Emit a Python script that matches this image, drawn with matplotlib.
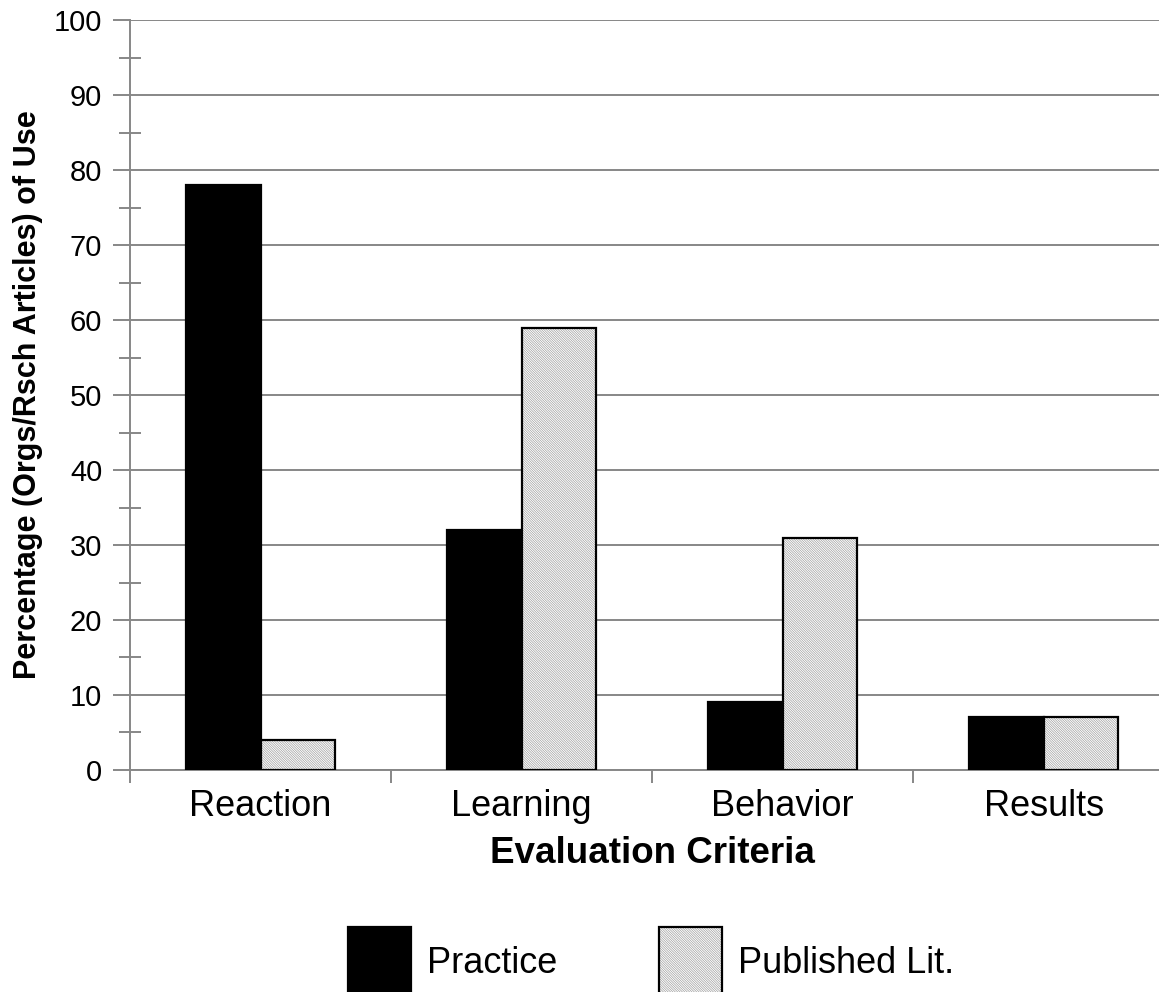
import matplotlib.pyplot as plt
import numpy as np
from matplotlib.patches import Patch
from matplotlib.legend_handler import HandlerTuple
from matplotlib.ticker import MultipleLocator

plt.rcParams['font.family'] = ['Liberation Sans', 'DejaVu Sans']
plt.rcParams['hatch.linewidth'] = 0.5

# Evaluation criteria and percentage of use
criteria = ['Reaction', 'Learning', 'Behavior', 'Results']
practice = [78, 32, 9, 7]
published = [4, 59, 31, 7]

grid_gray = '#878787'
hatch_gray = '#a0a0a0'
hatch = '\\' * 14
bar_w = 0.285

fig = plt.figure(figsize=(11.59, 9.92), dpi=100)
ax = fig.add_axes([0.1122, 0.2238, 0.9008, 0.756])

x = np.arange(len(criteria))
ax.bar(x - bar_w / 2, practice, bar_w, color='black', edgecolor='black',
       linewidth=1.6, zorder=3)
# hatched fill first, then a black outline on top
ax.bar(x + bar_w / 2, published, bar_w, color='white', edgecolor=hatch_gray,
       hatch=hatch, linewidth=0, zorder=3)
ax.bar(x + bar_w / 2, published, bar_w, fill=False, edgecolor='black',
       linewidth=1.6, zorder=4)

ax.set_xlim(-0.5, len(criteria) - 0.5)
ax.set_ylim(0, 100)
ax.yaxis.set_major_locator(MultipleLocator(10))
ax.yaxis.set_minor_locator(MultipleLocator(5))
ax.grid(axis='y', which='major', color=grid_gray, linewidth=1.4, zorder=0)

for side in ['top', 'right']:
    ax.spines[side].set_visible(False)
for side in ['left', 'bottom']:
    ax.spines[side].set_color(grid_gray)
    ax.spines[side].set_linewidth(1.4)

ax.tick_params(axis='y', which='major', length=12, width=1.4, color=grid_gray,
               labelsize=21, pad=8)
ax.tick_params(axis='y', which='minor', length=16, width=1.4, color=grid_gray,
               direction='inout')
ax.set_xticks(np.arange(len(criteria) + 1) - 0.5, minor=True)
ax.set_xticks(x)
ax.set_xticklabels(criteria, fontsize=26)
ax.tick_params(axis='x', which='major', length=0, pad=14)
ax.tick_params(axis='x', which='minor', length=9, width=1.4, color=grid_gray)

ax.set_xlabel('Evaluation Criteria', fontsize=26.5, fontweight='bold',
              labelpad=8)
ax.set_ylabel('Percentage (Orgs/Rsch Articles) of Use', fontsize=22,
              fontweight='bold', labelpad=8)

h_prac = Patch(facecolor='black', edgecolor='black', linewidth=1.6)
h_pub_fill = Patch(facecolor='white', edgecolor=hatch_gray, hatch=hatch,
                   linewidth=0)
h_pub_edge = Patch(fill=False, edgecolor='black', linewidth=1.6)
fig.legend([h_prac, (h_pub_fill, h_pub_edge)], ['Practice', 'Published Lit.'],
           handler_map={tuple: HandlerTuple(ndivide=1, pad=0)},
           loc='upper left', bbox_to_anchor=(348 / 1159, 1 - 927 / 992),
           borderaxespad=0, borderpad=0, ncol=2, frameon=False,
           fontsize=26, handlelength=1.75, handleheight=2.6,
           handletextpad=0.45, columnspacing=2.8)

fig.savefig('out.png', dpi=100)
